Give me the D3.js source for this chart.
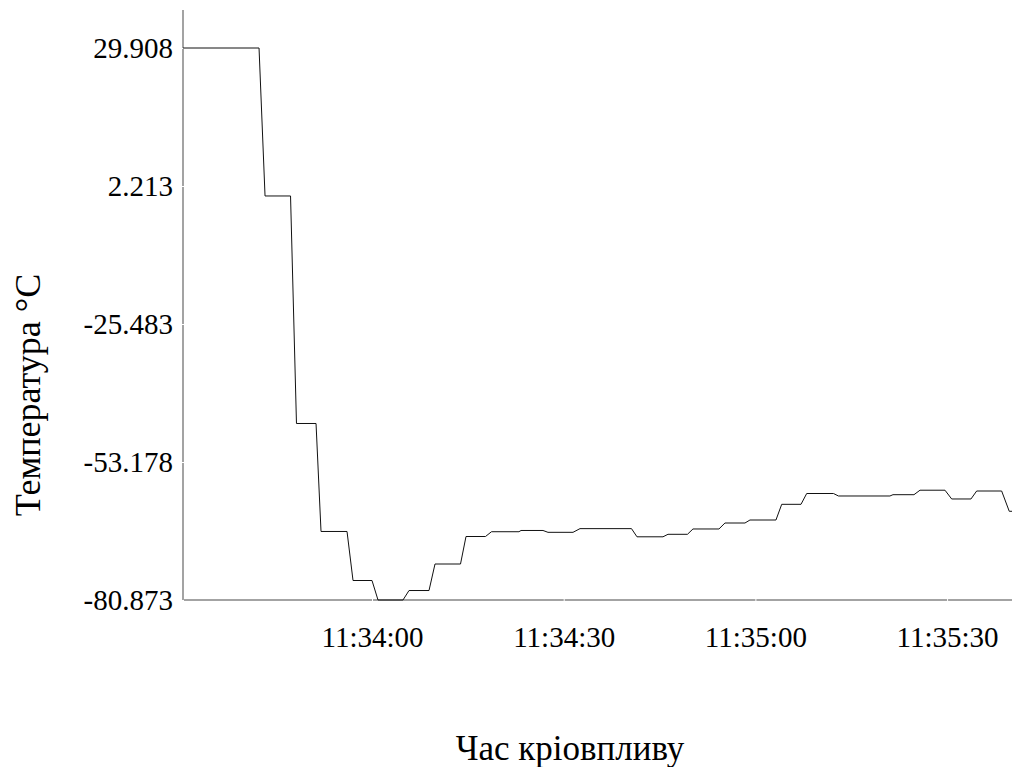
<!DOCTYPE html>
<html>
<head>
<meta charset="utf-8">
<script src="https://cdn.jsdelivr.net/npm/d3@7"></script>
<style>
	body { margin: 0; background: #fff; }
	svg text { font-family: "Liberation Serif", "Times New Roman", serif; fill: #000; }
</style>
</head>
<body>
<svg id="chart" width="1012" height="767"></svg>
<script>
// seconds after 11:33:00 (vertices of the step trace)
const seconds = [30.42, 42.32, 43.26, 47.25, 48.18, 51.24, 52.02, 56.09, 57.03, 60.00,
	60.94, 64.85, 65.79, 68.92, 69.86, 73.85, 74.71, 77.76, 78.70, 83.00,
	83.32, 86.76, 87.54, 91.46, 92.55, 100.61, 101.47, 105.54, 106.32, 109.37,
	110.23, 114.30, 115.24, 118.37, 119.15, 123.22, 124.12, 127.14, 128.03, 132.22,
	133.00, 141.06, 141.53, 144.82, 145.76, 149.67, 150.72, 153.74, 154.63, 158.54,
	159.73, 160.16];
const temps = [29.908, 29.908, 0.21, 0.21, -45.45, -45.45, -67.12, -67.12, -76.96, -76.96,
	-80.873, -80.873, -78.97, -78.97, -73.65, -73.65, -68.13, -68.13, -67.17, -67.17,
	-66.92, -66.92, -67.29, -67.29, -66.55, -66.55, -68.19, -68.19, -67.69, -67.69,
	-66.62, -66.62, -65.42, -65.42, -64.82, -64.82, -61.67, -61.67, -59.50, -59.50,
	-60.00, -60.00, -59.74, -59.74, -58.84, -58.84, -60.60, -60.60, -59.00, -59.00,
	-63.07, -63.07];
const yTicks = [29.908, 2.213, -25.483, -53.178, -80.873];
const xTicks = ['11:34:00', '11:34:30', '11:35:00', '11:35:30'];
const xTitle = 'Час кріовпливу';
const yTitle = 'Температура °C';

const baseTime = new Date(2020, 0, 1, 11, 33, 0);
const parseTick = d3.timeParse('%H:%M:%S');
const data = seconds.map((s, i) => ({
	t: new Date(baseTime.getTime() + s * 1000),
	v: temps[i]
}));

const svg = d3.select('#chart');
const axisColor = '#a3a3a3';

const xScale = d3.scaleTime()
	.domain(d3.extent(data, d => d.t))
	.range([183, 1012]);

const yScale = d3.scaleLinear()
	.domain(d3.extent(data, d => d.v))
	.range([600, 48]);

/* axis lines */
svg.append('line')
	.attr('x1', 183).attr('x2', 183)
	.attr('y1', 10).attr('y2', 600)
	.attr('stroke', axisColor).attr('stroke-width', 2);

svg.append('line')
	.attr('x1', 182).attr('x2', 1012)
	.attr('y1', 600).attr('y2', 600)
	.attr('stroke', axisColor).attr('stroke-width', 2);

const xTickDates = xTicks.map(s => {
	const p = parseTick(s);
	return new Date(2020, 0, 1, p.getHours(), p.getMinutes(), p.getSeconds());
});

const xAxis = d3.axisBottom(xScale)
	.tickValues(xTickDates)
	.tickFormat(d3.timeFormat('%H:%M:%S'))
	.tickSizeInner(3)
	.tickSizeOuter(0)
	.tickPadding(24);

// plain hyphen for negatives, like the original
const yAxis = d3.axisLeft(yScale)
	.tickValues(yTicks)
	.tickFormat(d => d.toFixed(3))
	.tickSizeInner(3)
	.tickSizeOuter(0)
	.tickPadding(8);

const gx = svg.append('g')
	.attr('transform', 'translate(0,599)')
	.call(xAxis);

const gy = svg.append('g')
	.attr('transform', 'translate(184,0)')
	.call(yAxis);

[gx, gy].forEach(g => {
	g.select('.domain').remove();
	g.selectAll('.tick line').attr('stroke', '#fff').attr('stroke-width', 1);
	g.selectAll('.tick text')
		.attr('font-family', '"Liberation Serif", serif')
		.attr('font-size', 29)
		.attr('fill', '#000');
});

/* temperature trace */
const line = d3.line()
	.x(d => xScale(d.t))
	.y(d => yScale(d.v));

svg.append('path')
	.datum(data)
	.attr('fill', 'none')
	.attr('stroke', '#111')
	.attr('stroke-width', 1)
	.attr('d', line);

/* titles */
svg.append('text')
	.attr('x', 570)
	.attr('y', 760)
	.attr('text-anchor', 'middle')
	.attr('font-size', 35)
	.text(xTitle);

svg.append('text')
	.attr('transform', 'translate(40,395) rotate(-90)')
	.attr('text-anchor', 'middle')
	.attr('font-size', 36)
	.text(yTitle);
</script>
</body>
</html>
